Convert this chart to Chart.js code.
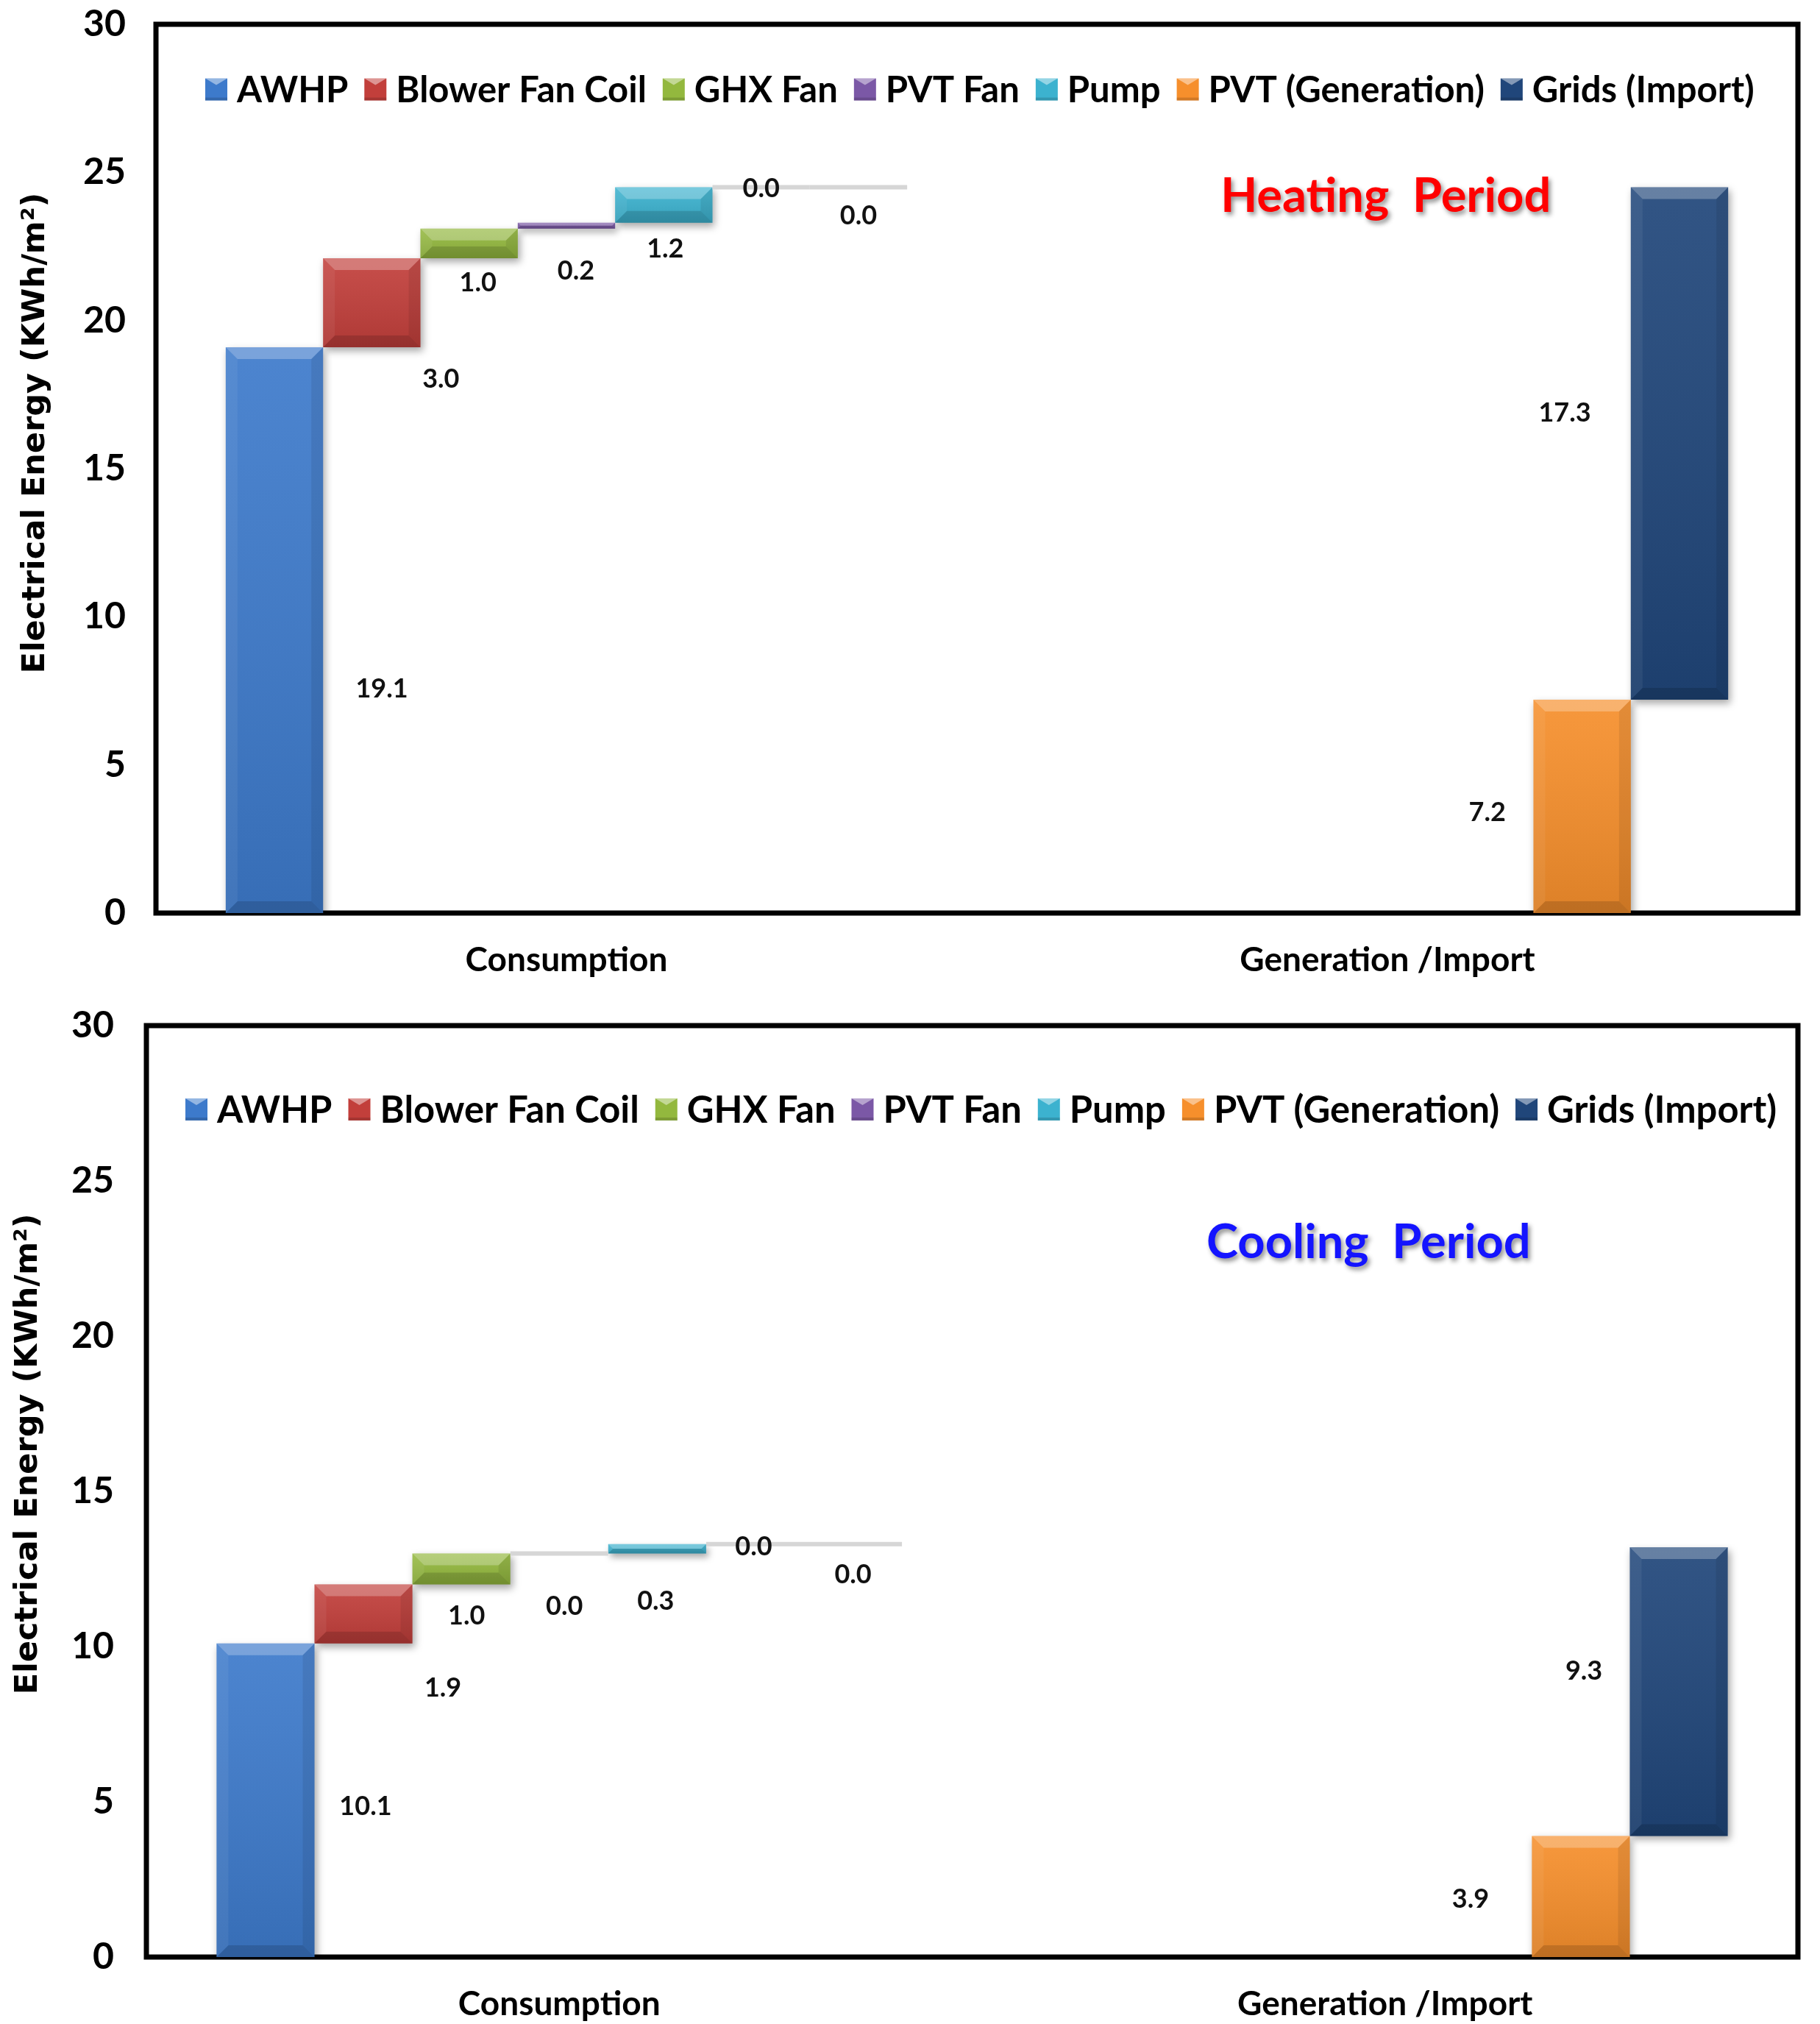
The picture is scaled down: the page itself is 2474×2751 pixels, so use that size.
<!DOCTYPE html>
<html>
<head>
<meta charset="utf-8">
<title>Electrical energy - heating and cooling period</title>
<script src="https://cdn.jsdelivr.net/npm/chart.js@4.4.1/dist/chart.umd.min.js"></script>
<style>
    html, body { margin: 0; padding: 0; background: #fff; }
    #wrap { position: relative; width: 2474px; height: 2751px; background: #fff; }
    canvas { position: absolute; left: 0; }
</style>
</head>
<body>
<div id="wrap">
    <canvas id="heatChart" width="2474" height="1340" style="top: 0; width: 2474px; height: 1340px;"></canvas>
    <canvas id="coolChart" width="2474" height="1411" style="top: 1340px; width: 2474px; height: 1411px;"></canvas>
</div>
<script>
// ---- data (kWh/m2) ----
const categories = ['Consumption', 'Generation /Import'];
const seriesNames = ['AWHP', 'Blower Fan Coil', 'GHX Fan', 'PVT Fan', 'Pump', 'PVT (Generation)', 'Grids (Import)'];
// consumption side, PVT and Grids show up as zero steps at the end
const heatingConsumption = [19.1, 3.0, 1.0, 0.2, 1.2, 0.0, 0.0];
const heatingSupply = [7.2, 17.3];   // PVT (Generation), Grids (Import)
const coolingConsumption = [10.1, 1.9, 1.0, 0.0, 0.3, 0.0, 0.0];
const coolingSupply = [3.9, 9.3];
const yTicks = [0, 5, 10, 15, 20, 25, 30];

const seriesColors = ['#3d7acb', '#c23f3b', '#93b83e', '#7b58a6', '#3cb2cf', '#f68f2c', '#20467a'];

// label placement (px from bar centre), Excel put them all over the place
const heatLabelOffsets = [[146, 80], [94, 104], [12, 53], [13, 62], [2, 60], [0, 2], [0, 39]];
const heatSupplyOffsets = [[-129, 8], [-156, -41]];
const coolLabelOffsets = [[136, 9], [108, 101], [7, 64], [7, 72], [-2, 71], [-2, 4], [0, 42]];
const coolSupplyOffsets = [[-150, 4], [-129, -28]];

const FONT = 'Lato, "Open Sans", sans-serif';
const Y_TITLE = 'Electrical Energy (KWh/m²)';

function buildDatasets(consumption, supply) {
    let run = 0;
    const cons = consumption.map(v => { const seg = [run, run + v]; run += v; return seg; });
    let run2 = 0;
    const sup = supply.map(v => { const seg = [run2, run2 + v]; run2 += v; return seg; });
    return seriesNames.map((name, i) => ({
        label: name,
        data: [cons[i], i >= 5 ? sup[i - 5] : null],
        values: [consumption[i], i >= 5 ? supply[i - 5] : null],
        backgroundColor: seriesColors[i],
        borderWidth: 0,
        borderSkipped: false,
        barPercentage: 1,
        categoryPercentage: 0.83
    }));
}

function poly(ctx, pts, fill) {
    ctx.beginPath();
    ctx.moveTo(pts[0], pts[1]);
    for (let i = 2; i < pts.length; i += 2) ctx.lineTo(pts[i], pts[i + 1]);
    ctx.closePath();
    ctx.fillStyle = fill;
    ctx.fill();
}

function bevelBar(ctx, el) {
    const { x, y, base, width } = el.getProps(['x', 'y', 'base', 'width'], true);
    const left = x - width / 2, right = x + width / 2;
    const top = Math.min(y, base), bottom = Math.max(y, base);
    const h = bottom - top;
    if (h < 1) return false;
    const b = Math.min(16, h / 2, width / 2);
    const g = ctx.createLinearGradient(0, top, 0, bottom);
    g.addColorStop(0, 'rgba(255,255,255,0.08)');
    g.addColorStop(1, 'rgba(0,0,0,0.10)');
    ctx.fillStyle = g;
    ctx.fillRect(left, top, width, h);
    poly(ctx, [left, top, right, top, right - b, top + b, left + b, top + b], 'rgba(255,255,255,0.26)');
    poly(ctx, [left, top, left + b, top + b, left + b, bottom - b, left, bottom], 'rgba(255,255,255,0.06)');
    poly(ctx, [right, top, right, bottom, right - b, bottom - b, right - b, top + b], 'rgba(0,0,0,0.08)');
    poly(ctx, [left, bottom, right, bottom, right - b, bottom - b, left + b, bottom - b], 'rgba(0,0,0,0.14)');
    return true;
}

function makeChart(canvasId, consumption, supply, cfg) {
    const ctx = document.getElementById(canvasId);

    const decor = {
        id: 'decor',
        beforeDatasetsDraw(chart) {
            const c = chart.ctx, a = chart.chartArea;
            c.save();
            c.lineWidth = 7;
            c.strokeStyle = '#000';
            c.strokeRect(a.left, a.top, a.right - a.left, a.bottom - a.top);
            c.restore();
            c.save();
            c.shadowColor = 'rgba(0,0,0,0.35)';
            c.shadowBlur = 10;
            c.shadowOffsetX = 3;
            c.shadowOffsetY = 5;
        },
        afterDatasetsDraw(chart) {
            const c = chart.ctx;
            c.restore();
            chart.data.datasets.forEach((ds, di) => {
                const meta = chart.getDatasetMeta(di);
                meta.data.forEach((el, idx) => {
                    if (ds.data[idx] == null) return;
                    c.save();
                    const drawn = bevelBar(c, el);
                    if (!drawn) {
                        // zero step: thin grey connector
                        c.strokeStyle = '#d6d6d6';
                        c.lineWidth = 6;
                        c.beginPath();
                        c.moveTo(el.x - el.width / 2, el.y);
                        c.lineTo(el.x + el.width / 2, el.y);
                        c.stroke();
                    }
                    // value label
                    const off = idx === 0 ? cfg.labelOffsets[di] : cfg.supplyOffsets[di - 5];
                    const cy = (el.y + el.base) / 2;
                    c.fillStyle = '#111';
                    c.font = 'bold 36px ' + FONT;
                    c.textAlign = 'center';
                    c.textBaseline = 'middle';
                    c.fillText(ds.values[idx].toFixed(1), el.x + off[0], cy + off[1]);
                    c.restore();
                });
            });
        },
        afterDraw(chart) {
            const c = chart.ctx, a = chart.chartArea, ys = chart.scales.y;

            // y axis title (Excel had it sitting a bit above centre)
            c.save();
            c.translate(cfg.titleX, ys.getPixelForValue(cfg.titleAt));
            c.rotate(-Math.PI / 2);
            c.font = 'bold 43px "DejaVu Sans", sans-serif';
            c.fillStyle = '#000';
            c.textAlign = 'center';
            c.textBaseline = 'middle';
            c.fillText(Y_TITLE, 0, 0);
            c.restore();

            // legend inside the plot
            c.save();
            let size = 40;
            c.font = 'bold ' + size + 'px ' + FONT;
            const sw = 30, gapIn = 13, gapOut = 22;
            const widths = seriesNames.map(n => c.measureText(n).width);
            const textTotal = widths.reduce((s, w) => s + w, 0);
            const fixed = seriesNames.length * (sw + gapIn) + (seriesNames.length - 1) * gapOut;
            size = size * (cfg.legendWidth - fixed) / textTotal;
            c.font = 'bold ' + size.toFixed(1) + 'px ' + FONT;
            const ly = ys.getPixelForValue(cfg.legendAt);
            let lx = cfg.legendLeft;
            c.textBaseline = 'middle';
            c.textAlign = 'left';
            seriesNames.forEach((n, i) => {
                c.fillStyle = seriesColors[i];
                c.fillRect(lx, ly - sw / 2, sw, sw);
                poly(c, [lx, ly - sw / 2, lx + sw, ly - sw / 2, lx + sw / 2, ly - sw / 2 + 9], 'rgba(255,255,255,0.45)');
                c.fillStyle = 'rgba(0,0,0,0.15)';
                c.fillRect(lx, ly + sw / 2 - 4, sw, 4);
                lx += sw + gapIn;
                c.fillStyle = '#000';
                c.fillText(n, lx, ly + 2);
                lx += c.measureText(n).width + gapOut;
            });
            c.restore();

            // period caption
            c.save();
            c.font = 'bold 65px ' + FONT;
            c.textAlign = 'center';
            c.textBaseline = 'middle';
            c.shadowColor = 'rgba(0,0,0,0.45)';
            c.shadowBlur = 6;
            c.shadowOffsetX = 3;
            c.shadowOffsetY = 4;
            c.fillStyle = cfg.periodColor;
            c.fillText(cfg.periodText, a.left + (a.right - a.left) * cfg.periodX, ys.getPixelForValue(cfg.periodAt));
            c.restore();
        }
    };

    return new Chart(ctx, {
        type: 'bar',
        data: {
            labels: categories,
            datasets: buildDatasets(consumption, supply)
        },
        options: {
            responsive: false,
            devicePixelRatio: 1,
            animation: false,
            layout: { padding: cfg.padding },
            plugins: {
                legend: { display: false },
                tooltip: { enabled: false }
            },
            scales: {
                x: {
                    grid: { display: false, drawTicks: false },
                    border: { display: false },
                    afterFit: scale => { scale.height = cfg.xAxisHeight; },
                    ticks: { color: '#000', padding: 37, font: { family: FONT, size: 46, weight: 'bold' } }
                },
                y: {
                    min: 0,
                    max: 30,
                    afterBuildTicks: scale => { scale.ticks = yTicks.map(v => ({ value: v })); },
                    afterFit: scale => {
                        scale.width = cfg.yAxisWidth;
                        scale.paddingTop = 0;
                        scale.paddingBottom = 0;
                    },
                    grid: { display: false, drawTicks: false },
                    border: { display: false },
                    ticks: { color: '#000', padding: cfg.yPad, font: { family: FONT, size: 50, weight: 'bold' } }
                }
            }
        },
        plugins: [decor]
    });
}

makeChart('heatChart', heatingConsumption, heatingSupply, {
    padding: { left: 24, right: 30, top: 33, bottom: 0 },
    yAxisWidth: 188,
    xAxisHeight: 99,
    yPad: 41,
    titleX: 49,
    titleAt: 16.2,
    labelOffsets: heatLabelOffsets,
    supplyOffsets: heatSupplyOffsets,
    legendWidth: 2107,
    legendLeft: 279,
    legendAt: 27.8,
    periodText: 'Heating  Period',
    periodColor: '#ff0000',
    periodX: 0.749,
    periodAt: 24.2
});

makeChart('coolChart', coolingConsumption, coolingSupply, {
    padding: { left: 13, right: 30, top: 54, bottom: 0 },
    yAxisWidth: 186,
    xAxisHeight: 91,
    yPad: 44,
    titleX: 39,
    titleAt: 16.2,
    labelOffsets: coolLabelOffsets,
    supplyOffsets: coolSupplyOffsets,
    legendWidth: 2162,
    legendLeft: 252,
    legendAt: 27.3,
    periodText: 'Cooling  Period',
    periodColor: '#1414ff',
    periodX: 0.74,
    periodAt: 23.0
});
</script>
</body>
</html>
